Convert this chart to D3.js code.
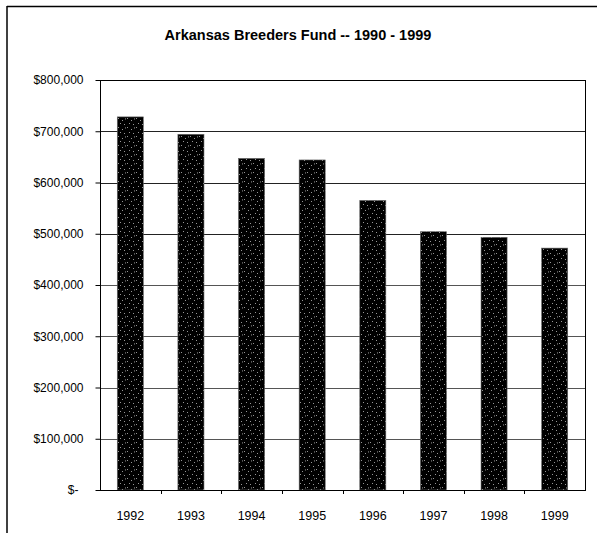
<!DOCTYPE html>
<html>
<head>
<meta charset="utf-8">
<script src="https://cdn.jsdelivr.net/npm/d3@7/dist/d3.min.js"></script>
<style>
  html, body { margin: 0; padding: 0; background: #fff; }
  svg { display: block; }
  text { font-family: Arial, "Liberation Sans", sans-serif; fill: #000; }
</style>
</head>
<body>
<svg id="chart" width="597" height="533"></svg>
<script>
const titleText = "Arkansas Breeders Fund -- 1990 - 1999";
const years = ["1992", "1993", "1994", "1995", "1996", "1997", "1998", "1999"];
const fundValues = [728000, 694000, 647000, 644000, 565000, 504000, 493000, 472000];
const yTicks = [0, 100000, 200000, 300000, 400000, 500000, 600000, 700000, 800000];

const svg = d3.select("#chart");
const W = 597, H = 533;
const plot = { left: 100, right: 585, top: 80, bottom: 490 };

// dotted texture for bars
const defs = svg.append("defs");
const pat = defs.append("pattern")
  .attr("id", "stipple").attr("patternUnits", "userSpaceOnUse")
  .attr("width", 9).attr("height", 9);
pat.append("rect").attr("width", 9).attr("height", 9).attr("fill", "#000");
[[1,1],[5,3],[3,6],[7,7],[8,1.5]].forEach(([cx, cy]) => {
  pat.append("rect").attr("x", cx).attr("y", cy).attr("width", 0.9).attr("height", 0.9).attr("fill", "#bbb");
});

// outer frame (top and left only)
svg.append("line").attr("x1", 7).attr("x2", W).attr("y1", 6.5).attr("y2", 6.5)
  .attr("stroke", "#000").attr("stroke-width", 1.5);
svg.append("line").attr("x1", 7).attr("x2", 7).attr("y1", 6).attr("y2", H)
  .attr("stroke", "#000").attr("stroke-width", 1.5);

// title
svg.append("text").attr("x", 298).attr("y", 40)
  .attr("text-anchor", "middle").attr("font-weight", "bold")
  .attr("font-size", "14.5px").text(titleText);

const x = d3.scaleBand().domain(years).range([plot.left, plot.right])
  .paddingInner(0.57).paddingOuter(0.285);
const y = d3.scaleLinear().domain([0, 800000]).range([plot.bottom, plot.top]);

// gridlines
svg.append("g").selectAll("line")
  .data(yTicks.filter(d => d > 0 && d < 800000))
  .join("line")
  .attr("x1", plot.left).attr("x2", plot.right)
  .attr("y1", d => Math.round(y(d)) + 0.5).attr("y2", d => Math.round(y(d)) + 0.5)
  .attr("stroke", d => d >= 500000 ? "#222" : "#555").attr("stroke-width", 1);

// bars
svg.append("g").selectAll("rect")
  .data(years.map((yr, i) => ({ yr, v: fundValues[i] })))
  .join("rect")
  .attr("x", d => x(d.yr))
  .attr("y", d => y(d.v))
  .attr("width", x.bandwidth())
  .attr("height", d => y(0) - y(d.v))
  .attr("fill", "url(#stipple)")
  .attr("stroke", "#666").attr("stroke-width", 0.6);

// plot frame
svg.append("rect")
  .attr("x", plot.left + 0.5).attr("y", plot.top + 0.5)
  .attr("width", plot.right - plot.left).attr("height", plot.bottom - plot.top)
  .attr("fill", "none").attr("stroke", "#000").attr("stroke-width", 1);

// y axis
const fmt = d => d === 0 ? "$-" : "$" + d3.format(",")(d);
const yAxis = d3.axisLeft(y).tickValues(yTicks).tickSize(5).tickPadding(12).tickFormat(fmt);
const gy = svg.append("g").attr("transform", `translate(${plot.left + 0.5},0)`).call(yAxis);
gy.select(".domain").remove();
gy.selectAll("text").attr("font-size", "12px").attr("font-family", "Arial, 'Liberation Sans', sans-serif")
  .attr("dx", d => d === 0 ? -5 : 0);
gy.selectAll(".tick line").attr("stroke", "#000");

// x axis
const xAxis = d3.axisBottom(x).tickSize(0).tickPadding(21);
const gx = svg.append("g").attr("transform", `translate(0,${plot.bottom + 0.5})`).call(xAxis);
gx.select(".domain").remove();
gx.selectAll("text").attr("font-size", "12.5px").attr("font-family", "Arial, 'Liberation Sans', sans-serif");

// x tick marks at category boundaries
svg.append("g").selectAll("line")
  .data(years.slice(1))
  .join("line")
  .attr("x1", d => Math.round(x(d) - x.step() * x.paddingInner() / 2) + 0.5)
  .attr("x2", d => Math.round(x(d) - x.step() * x.paddingInner() / 2) + 0.5)
  .attr("y1", plot.bottom).attr("y2", plot.bottom + 4)
  .attr("stroke", "#000");
</script>
</body>
</html>
